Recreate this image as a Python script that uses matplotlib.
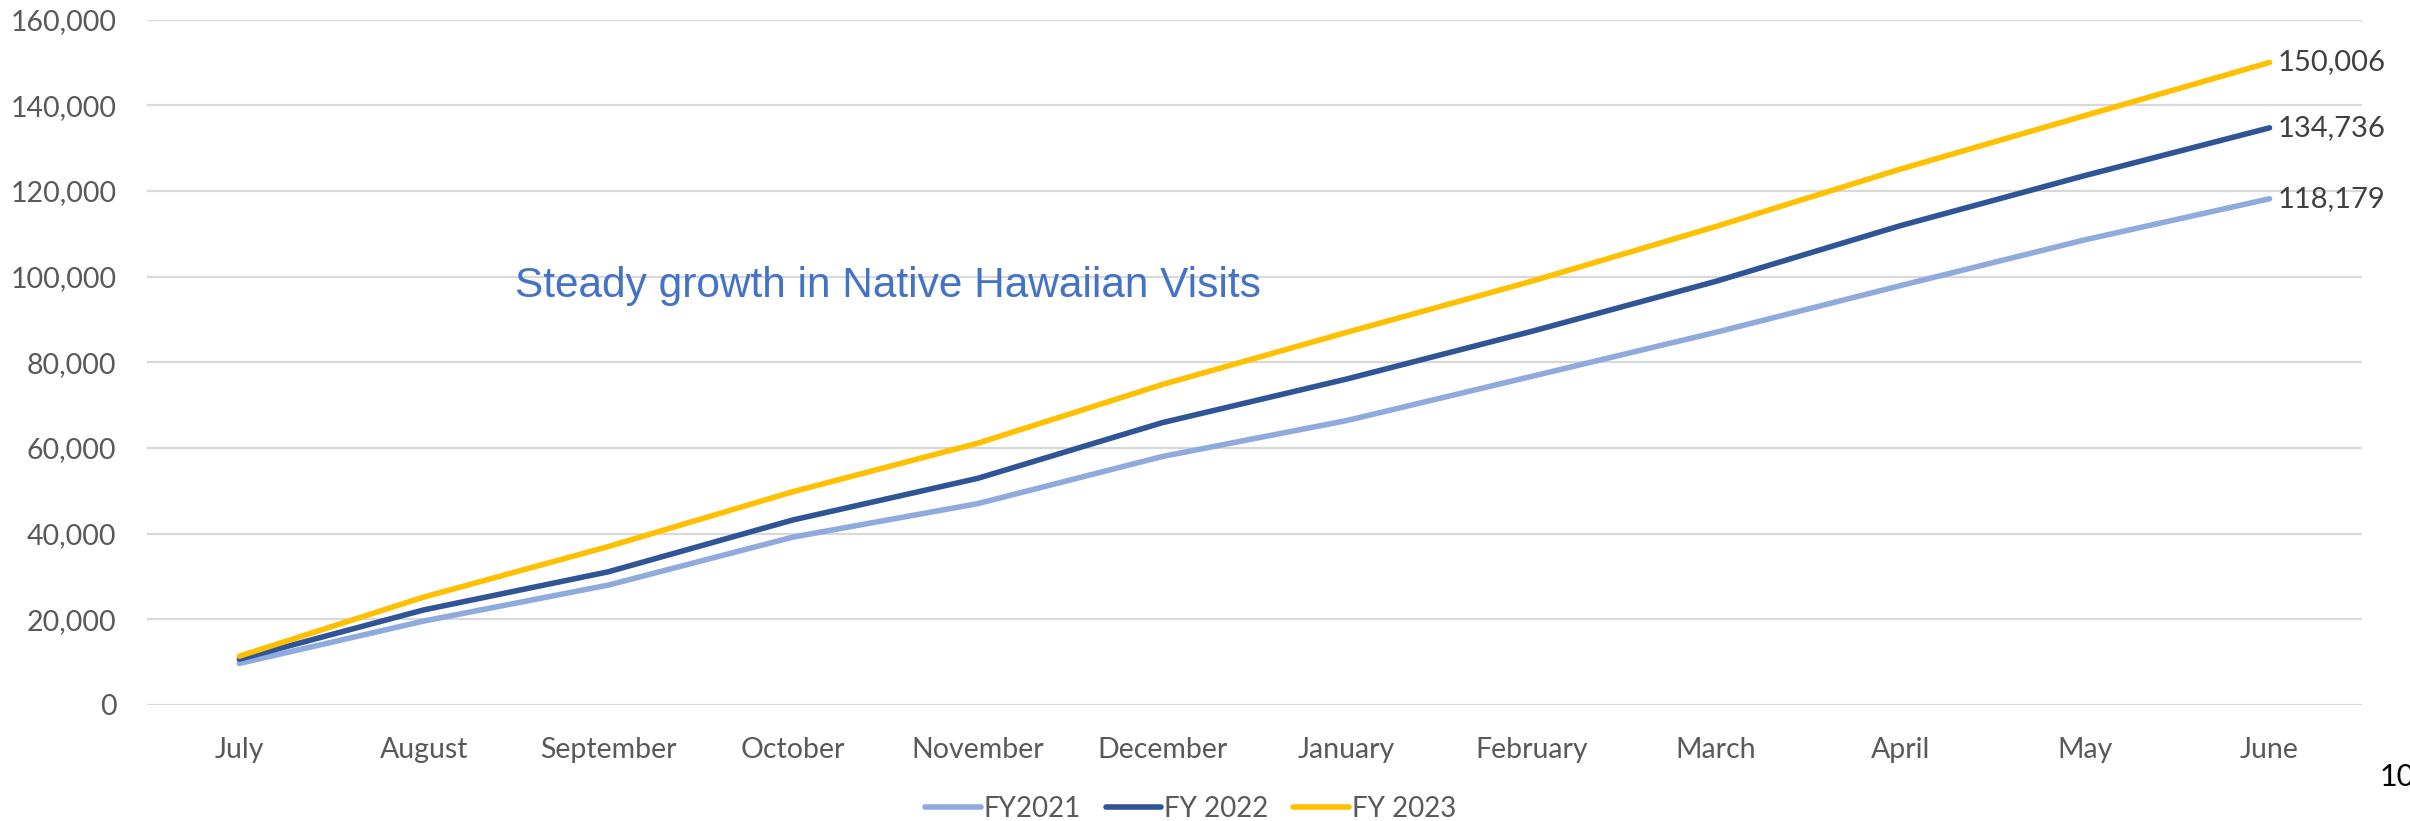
import matplotlib.pyplot as plt
from matplotlib.ticker import FuncFormatter

# Monthly cumulative visits by fiscal year
months = ['July', 'August', 'September', 'October', 'November', 'December',
          'January', 'February', 'March', 'April', 'May', 'June']
fy2021 = [9700, 19600, 28000, 39200, 47000, 58000, 66400, 76700, 87000, 97900, 108600, 118179]
fy2022 = [10700, 22200, 31100, 43200, 52900, 65900, 76100, 87200, 98900, 111900, 123600, 134736]
fy2023 = [11400, 25200, 37000, 49800, 61100, 74800, 87000, 98900, 111700, 125100, 137600, 150006]
series_names = ['FY2021', 'FY 2022', 'FY 2023']
colors = ['#8FAADC', '#2F5597', '#FFC000']

fig = plt.figure(figsize=(24.1, 8.21), dpi=100)
ax = fig.add_axes([0.061, 0.1413, 0.919, 0.8348])

x = range(len(months))
for vals, name, c in zip([fy2021, fy2022, fy2023], series_names, colors):
    ax.plot(x, vals, color=c, lw=4.0, solid_capstyle='round', label=name, zorder=3)
    # label the last point
    ax.annotate(f'{vals[-1]:,}', (x[-1], vals[-1]), xytext=(6, 0),
                textcoords='offset points', va='center', ha='left',
                fontsize=21, color='#404040', family='Lato')

ax.set_xlim(-0.5, len(months) - 0.5)
ax.set_ylim(0, 160000)
ax.set_yticks(range(0, 160001, 20000))
ax.yaxis.set_major_formatter(FuncFormatter(lambda v, p: f'{int(v):,}'))
ax.set_xticks(list(x))
ax.set_xticklabels(months)
ax.grid(axis='y', color='#D9D9D9', lw=1.6, zorder=0)
for s in ax.spines.values():
    s.set_visible(False)
ax.tick_params(length=0, labelsize=20.5, labelcolor='#595959')
ax.tick_params(axis='x', pad=23)
ax.tick_params(axis='y', pad=22)
for lbl in ax.get_xticklabels() + ax.get_yticklabels():
    lbl.set_family('Lato')

ax.text(0.166, 0.611, 'Steady growth in Native Hawaiian Visits', transform=ax.transAxes,
        fontsize=30.5, color='#4472C4', family='Liberation Sans', va='center', ha='left')

leg = fig.legend(loc='center', bbox_to_anchor=(0.494, 0.015), ncol=3, frameon=False,
                 handlelength=2.0, handletextpad=0.1, columnspacing=0.9,
                 prop={'family': 'Lato', 'size': 20})
for t in leg.get_texts():
    t.set_color('#595959')

fig.text(2380 / 2410, 1 - 777 / 821, '10', fontsize=22, color='black',
         family='Lato', va='center', ha='left')

fig.savefig('out.png', dpi=100)
